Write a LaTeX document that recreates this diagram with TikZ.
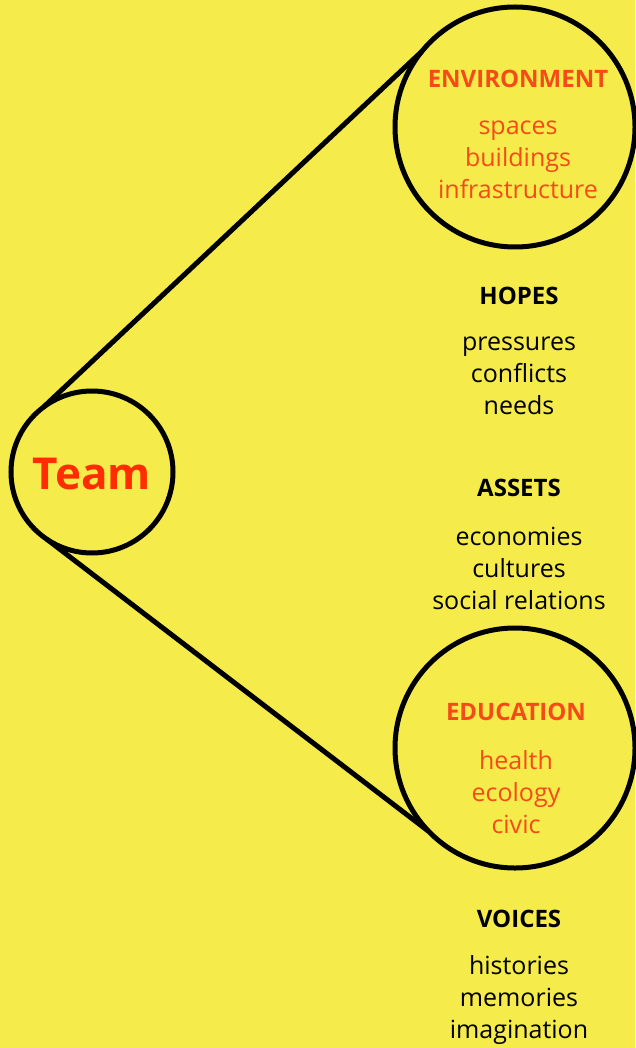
\documentclass[tikz,border=0pt]{standalone}
\usepackage{fontspec}
\setmainfont{Open Sans}
\usetikzlibrary{positioning}
\definecolor{bgyellow}{RGB}{245,235,75}
\definecolor{hotorange}{RGB}{245,75,25}
\definecolor{teamred}{RGB}{255,45,0}

\tikzset{
  ring/.style={circle,draw=black,line width=5pt,inner sep=0pt,outer sep=0pt},
  head/.style={font=\fontsize{24}{28}\selectfont\bfseries},
  items/.style={align=center,font=\fontsize{25}{32}\selectfont,inner sep=0pt},
}

\begin{document}
\begin{tikzpicture}[x=1pt,y=-1pt]
		\fill[bgyellow] (0,0) rectangle (635,1048);
		\useasboundingbox (0,0) rectangle (635,1048);

		\node[ring,minimum size=162pt] (team) at (92,472) {};
		\node[ring,minimum size=240pt] (env) at (515,127) {};
		\node[ring,minimum size=240pt] (edu) at (515,748) {};

		\draw[line width=5pt] (team.127) -- (env.141);
		\draw[line width=5pt] (team.236) -- (edu.224);

		\node[font=\fontsize{44}{48}\selectfont\bfseries,text=teamred] (teamlbl) at (92,474) {Team};

		% circles on the right
		\node[head,text=hotorange] (envhead) at (518,79) {ENVIRONMENT};
		\node[items,text=hotorange] (envlist) at (518,160) {spaces\\buildings\\infrastructure};

		\node[head,text=hotorange] (eduhead) at (516,712) {EDUCATION};
		\node[items,text=hotorange] (edulist) at (516,792) {health\\ecology\\civic};

		% plain lists
		\node[head] (hopes) at (519,296) {HOPES};
		\node[items] (hopeslist) at (519,376) {pressures\\conflicts\\needs};

		\node[head] (assets) at (519,488) {ASSETS};
		\node[items] (assetslist) at (519,568) {economies\\cultures\\social relations};

		\node[head] (voices) at (519,919) {VOICES};
		\node[items] (voiceslist) at (519,1000) {histories\\memories\\imagination};
\end{tikzpicture}
\end{document}
